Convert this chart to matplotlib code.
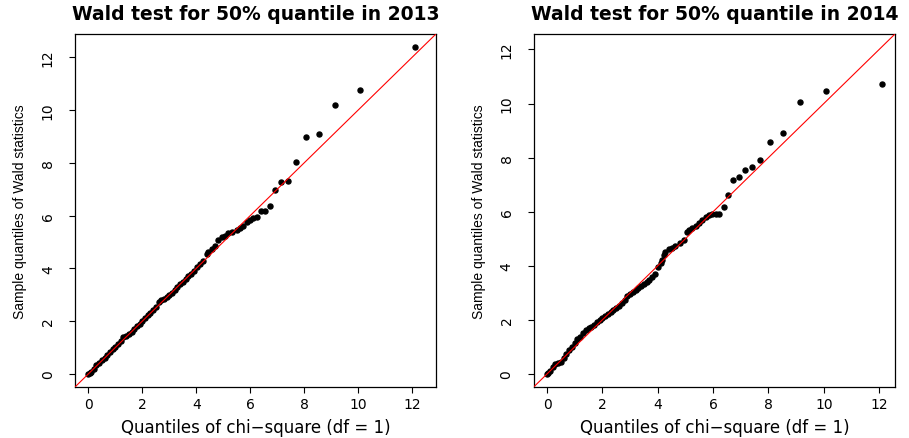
import numpy as np
import matplotlib
matplotlib.use('Agg')
import matplotlib.pyplot as plt

# Data (theoretical chi-square quantile, sample Wald quantile)
x_2013 = [0.00, 0.05, 0.10, 0.20, 0.30, 0.40, 0.50, 0.60, 0.70, 0.80, 0.90, 1.00,
          1.10, 1.20, 1.30, 1.40, 1.50, 1.60, 1.70, 1.80, 1.90, 2.00, 2.10, 2.20,
          2.30, 2.40, 2.50, 2.60, 2.70, 2.80, 2.90, 3.00, 3.10, 3.20, 3.30, 3.40,
          3.50, 3.60, 3.70, 3.80, 3.90, 4.02, 4.14, 4.26, 4.39, 4.45, 4.57, 4.69,
          4.81, 4.94, 5.06, 5.18, 5.31, 5.49, 5.61, 5.74, 5.86, 5.98, 6.11, 6.23,
          6.39, 6.56, 6.73, 6.92, 7.15, 7.41, 7.70, 8.07, 8.53, 9.14, 10.07, 12.10]
y_2013 = [0.00, 0.02, 0.08, 0.20, 0.32, 0.42, 0.53, 0.62, 0.72, 0.82, 0.93, 1.03,
          1.13, 1.25, 1.38, 1.45, 1.52, 1.60, 1.70, 1.80, 1.90, 2.00, 2.12, 2.23,
          2.32, 2.42, 2.55, 2.72, 2.80, 2.85, 2.90, 2.98, 3.07, 3.18, 3.30, 3.42,
          3.50, 3.60, 3.70, 3.80, 3.91, 4.04, 4.17, 4.29, 4.55, 4.61, 4.74, 4.86,
          5.09, 5.18, 5.24, 5.33, 5.37, 5.46, 5.52, 5.60, 5.77, 5.84, 5.90, 5.96,
          6.17, 6.17, 6.37, 6.96, 7.28, 7.31, 8.02, 8.97, 9.09, 10.17, 10.77, 12.38]

x_2014 = [0.00, 0.05, 0.10, 0.20, 0.30, 0.40, 0.50, 0.60, 0.70, 0.80, 0.90, 1.00,
          1.10, 1.20, 1.30, 1.40, 1.50, 1.60, 1.70, 1.80, 1.90, 2.00, 2.10, 2.20,
          2.30, 2.40, 2.50, 2.60, 2.70, 2.80, 2.90, 3.00, 3.10, 3.20, 3.30, 3.40,
          3.50, 3.60, 3.70, 3.80, 3.90, 4.00, 4.10, 4.16, 4.22, 4.28, 4.40, 4.52,
          4.64, 4.82, 4.94, 5.07, 5.12, 5.25, 5.37, 5.48, 5.61, 5.73, 5.85, 5.97,
          6.09, 6.21, 6.39, 6.55, 6.73, 6.93, 7.15, 7.42, 7.69, 8.07, 8.53, 9.14,
          10.07, 12.09]
y_2014 = [0.00, 0.05, 0.12, 0.25, 0.35, 0.40, 0.45, 0.58, 0.73, 0.88, 1.00, 1.15,
          1.28, 1.38, 1.50, 1.62, 1.69, 1.75, 1.82, 1.91, 1.98, 2.06, 2.14, 2.22,
          2.30, 2.38, 2.45, 2.53, 2.62, 2.75, 2.87, 2.95, 3.02, 3.10, 3.18, 3.25,
          3.32, 3.40, 3.48, 3.58, 3.70, 3.95, 4.10, 4.21, 4.39, 4.52, 4.61, 4.67,
          4.74, 4.83, 4.95, 5.26, 5.32, 5.41, 5.48, 5.57, 5.69, 5.82, 5.88, 5.91,
          5.91, 5.91, 6.19, 6.60, 7.18, 7.30, 7.55, 7.67, 7.92, 8.57, 8.90, 10.05,
          10.46, 10.73]

years = ['2013', '2014']
panels = [(x_2013, y_2013), (x_2014, y_2014)]

plt.rcParams['font.family'] = ['DejaVu Sans']

fig = plt.figure(figsize=(9.09, 4.39), dpi=100)
positions = [[0.0825, 0.1162, 0.3971, 0.8041],
             [0.5871, 0.1162, 0.3975, 0.8041]]

for pos, year, (qx, qy) in zip(positions, years, panels):
    ax = fig.add_axes(pos)
    # R style limits: range of both axes, padded by 4%
    hi = max(max(qx), max(qy))
    lim = (-0.04 * hi, hi * 1.04)
    ax.set_xlim(lim)
    ax.set_ylim(lim)

    ax.axline((0, 0), slope=1, color='red', lw=0.8, zorder=3)
    ax.plot(qx, qy, 'o', color='black', ms=3.6, mec='black', zorder=2)

    ax.set_xticks(range(0, 13, 2))
    ax.set_yticks(range(0, 13, 2))
    ax.tick_params(axis='both', direction='out', length=4.5, width=0.8, labelsize=10)
    ax.tick_params(axis='x', pad=3)
    ax.tick_params(axis='y', pad=10)
    for lab in ax.get_yticklabels():
        lab.set_rotation(90)
        lab.set_va('center')
    for sp in ax.spines.values():
        sp.set_linewidth(0.9)

    ax.set_title('Wald test for 50% quantile in ' + year, fontsize=13.5, fontweight='bold', pad=11)
    ax.set_xlabel('Quantiles of chi\u2212square (df = 1)', fontsize=12, labelpad=5)
    ax.set_ylabel('Sample quantiles of Wald statistics', fontsize=10, labelpad=10,
                  family='Liberation Sans')

fig.savefig('out.png', dpi=100)
